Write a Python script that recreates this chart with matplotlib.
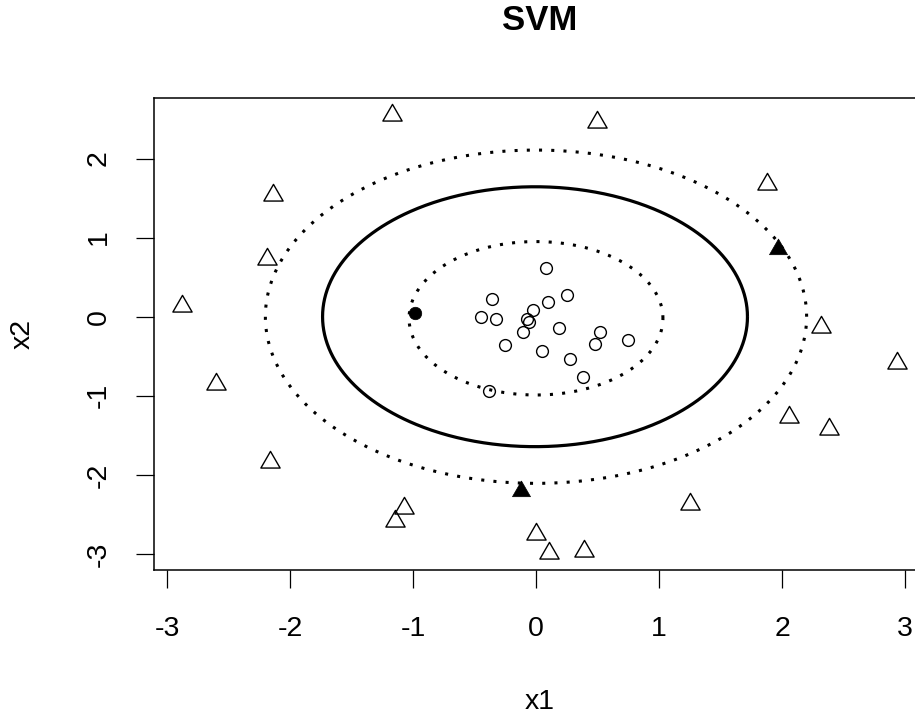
import numpy as np
import matplotlib
matplotlib.use("Agg")
import matplotlib.pyplot as plt
from matplotlib.path import Path

plt.rcParams['font.family'] = ['Liberation Sans', 'DejaVu Sans']

# Class +1 (outer ring, triangles)
tri_x = [-1.168, 0.496, -2.136, 1.881, -2.184, -2.876, 2.317, 2.937, -2.604,
         2.054, 2.382, -2.165, 1.255, -1.071, -1.144, 0.000, 0.103, 0.390]
tri_y = [2.549, 2.459, 1.533, 1.672, 0.724, 0.134, -0.134, -0.583, -0.848,
         -1.269, -1.417, -1.834, -2.367, -2.424, -2.587, -2.745, -2.985, -2.963]
# Class -1 (inner cluster, circles)
circ_x = [0.081, -0.360, 0.250, 0.095, -0.447, -0.328, -0.027, -0.076, -0.057,
          -0.108, 0.190, -0.252, 0.046, 0.273, 0.523, 0.480, 0.748, 0.382, -0.379]
circ_y = [0.612, 0.220, 0.274, 0.190, 0.000, -0.033, 0.085, -0.033, -0.063,
          -0.190, -0.147, -0.358, -0.430, -0.539, -0.190, -0.345, -0.295, -0.758, -0.936]
# Support vectors
sv_tri_x = [1.970, -0.122]
sv_tri_y = [0.852, -2.200]
sv_circ_x = [-0.984]
sv_circ_y = [0.050]

# Decision-function contours (levels -1, 0, 1): centre and semi-axes
contour_levels = [-1, 0, 1]
contour_cx = [0.000, -0.008, 0.000]
contour_cy = [-0.020, 0.000, 0.000]
contour_ax = [1.032, 1.727, 2.200]
contour_ay = [0.970, 1.643, 2.107]

x_ticks = [-3, -2, -1, 0, 1, 2, 3]
y_ticks = [-3, -2, -1, 0, 1, 2]

W, H = 915, 717
fig = plt.figure(figsize=(W / 100, H / 100), dpi=100)

# data ranges with 4% padding on each side
all_x = np.array(tri_x + circ_x + sv_tri_x + sv_circ_x)
all_y = np.array(tri_y + circ_y + sv_tri_y + sv_circ_y)
xr = all_x.max() - all_x.min()
yr = all_y.max() - all_y.min()
xlim = (all_x.min() - 0.04 * xr, all_x.max() + 0.04 * xr)
ylim = (all_y.min() - 0.04 * yr, all_y.max() + 0.04 * yr)

# plot region in pixels (right side runs past the canvas edge)
left_px, right_px, top_px, bottom_px = 153.6, 925.9, 97.6, 570.3
ax = fig.add_axes([left_px / W, 1 - bottom_px / H,
                   (right_px - left_px) / W, (bottom_px - top_px) / H])
ax.set_xlim(*xlim)
ax.set_ylim(*ylim)

# triangle marker centred on its centroid
tri_marker = Path([(0, 1), (-0.866, -0.5), (0.866, -0.5), (0, 1)],
                  [Path.MOVETO, Path.LINETO, Path.LINETO, Path.CLOSEPOLY])

theta = np.linspace(0, 2 * np.pi, 721)
for lev, cx, cy, a, b in zip(contour_levels, contour_cx, contour_cy, contour_ax, contour_ay):
    xs = cx + a * np.cos(theta)
    ys = cy + b * np.sin(theta)
    if lev == 0:
        ax.plot(xs, ys, color='black', lw=2.3, solid_capstyle='butt', zorder=2)
    else:
        ax.plot(xs, ys, color='black', lw=2.2, linestyle=(0, (1, 3)),
                dash_capstyle='butt', zorder=2)

ax.plot(tri_x, tri_y, linestyle='none', marker=tri_marker, markersize=16,
        markerfacecolor='none', markeredgecolor='black', markeredgewidth=1.0, zorder=3)
ax.plot(circ_x, circ_y, linestyle='none', marker='o', markersize=8.5,
        markerfacecolor='none', markeredgecolor='black', markeredgewidth=1.0, zorder=3)
ax.plot(sv_tri_x, sv_tri_y, linestyle='none', marker=tri_marker, markersize=15,
        markerfacecolor='black', markeredgecolor='black', markeredgewidth=0.5, zorder=3)
ax.plot(sv_circ_x, sv_circ_y, linestyle='none', marker='o', markersize=9,
        markerfacecolor='black', markeredgecolor='black', markeredgewidth=0.5, zorder=3)

for s in ax.spines.values():
    s.set_linewidth(1.1)
    s.set_color('black')

ax.set_xticks(x_ticks)
ax.set_yticks(y_ticks)
ax.set_xticklabels([str(t) for t in x_ticks])
ax.set_yticklabels([str(t) for t in y_ticks], rotation=90, va='center')
ax.tick_params(axis='both', direction='out', length=13, width=0.9,
               labelsize=20.5, colors='black')
ax.tick_params(axis='x', pad=20)
ax.tick_params(axis='y', pad=17)

fig.text(539.7 / W, 1 - 21 / H, 'SVM', ha='center', va='center',
         fontsize=25, fontweight='bold')
fig.text(539.7 / W, 1 - 702 / H, 'x1', ha='center', va='center', fontsize=20.5)
fig.text(23 / W, 1 - 334 / H, 'x2', ha='center', va='center', fontsize=20.5,
         rotation=90)

fig.savefig('out.png', dpi=100)
